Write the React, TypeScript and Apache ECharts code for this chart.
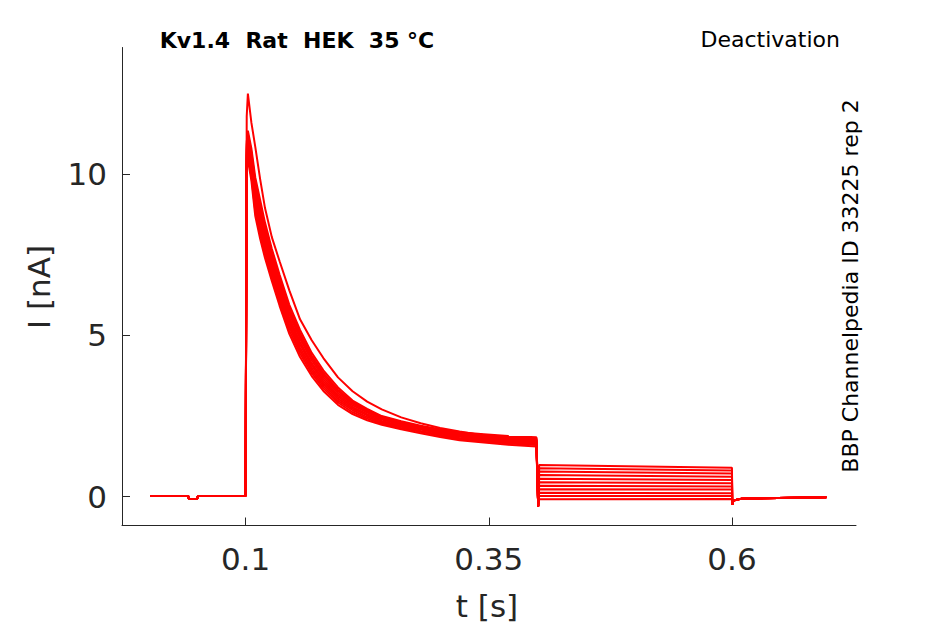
import React, { useEffect, useRef } from "react";
import * as echarts from "echarts";

// Baseline before the test pulse (shared by all sweeps)
const baseT = [0.002, 0.041, 0.0418, 0.0502, 0.051, 0.1];
const baseI = [0.02, 0.02, -0.07, -0.07, 0.02, 0.02];

// Activation / inactivation phase time points (s)
const actT = [0.1012, 0.1024, 0.106, 0.11, 0.115, 0.12, 0.127, 0.135, 0.145, 0.156, 0.168, 0.18, 0.195, 0.21, 0.225, 0.24, 0.26, 0.28, 0.3, 0.32, 0.345, 0.37, 0.399];

// Current (nA) of each sweep during that phase
const sweepA = [11.8, 12.5, 11.6, 10.85, 9.85, 8.95, 8.05, 7.3, 6.4, 5.5, 4.85, 4.3, 3.7, 3.27, 2.95, 2.71, 2.46, 2.28, 2.13, 2.02, 1.9, 1.81, 1.76];
const sweepB = [11.0, 11.35, 10.8, 9.9, 9.2, 8.5, 7.69, 6.88, 5.95, 5.17, 4.46, 3.92, 3.39, 2.98, 2.72, 2.5, 2.34, 2.2, 2.09, 2.0, 1.94, 1.88, 1.84];
const sweepC = [10.9, 11.24, 10.68, 9.75, 9.05, 8.36, 7.57, 6.76, 5.84, 5.07, 4.37, 3.84, 3.32, 2.94, 2.69, 2.48, 2.32, 2.18, 2.07, 1.98, 1.91, 1.85, 1.81];
const sweepD = [10.82, 11.15, 10.58, 9.63, 8.93, 8.25, 7.47, 6.66, 5.75, 4.98, 4.3, 3.78, 3.27, 2.9, 2.66, 2.46, 2.3, 2.16, 2.05, 1.96, 1.89, 1.83, 1.78];
const sweepE = [10.74, 11.06, 10.48, 9.51, 8.81, 8.14, 7.37, 6.57, 5.66, 4.9, 4.23, 3.71, 3.21, 2.88, 2.65, 2.44, 2.29, 2.15, 2.04, 1.95, 1.87, 1.8, 1.75];
const sweepF = [10.65, 10.95, 10.36, 9.37, 8.67, 8.02, 7.25, 6.46, 5.55, 4.8, 4.14, 3.64, 3.15, 2.83, 2.61, 2.42, 2.27, 2.14, 2.02, 1.92, 1.84, 1.77, 1.72];
const sweepG = [10.57, 10.86, 10.26, 9.25, 8.55, 7.91, 7.15, 6.36, 5.46, 4.72, 4.07, 3.57, 3.1, 2.78, 2.56, 2.39, 2.24, 2.11, 1.99, 1.89, 1.81, 1.74, 1.69];
const sweepH = [10.48, 10.77, 10.15, 9.12, 8.42, 7.79, 7.04, 6.26, 5.37, 4.62, 3.99, 3.5, 3.04, 2.73, 2.52, 2.35, 2.2, 2.08, 1.96, 1.86, 1.78, 1.71, 1.66];
const sweepI = [10.39, 10.67, 10.04, 8.99, 8.29, 7.66, 6.93, 6.15, 5.27, 4.53, 3.91, 3.43, 2.98, 2.68, 2.47, 2.31, 2.17, 2.04, 1.92, 1.82, 1.75, 1.68, 1.63];
const sweepJ = [10.3, 10.56, 9.93, 8.85, 8.15, 7.54, 6.82, 6.04, 5.16, 4.44, 3.83, 3.36, 2.92, 2.62, 2.42, 2.27, 2.13, 2.01, 1.89, 1.79, 1.72, 1.65, 1.6];
const sweepK = [10.2, 10.45, 9.8, 8.7, 8.0, 7.4, 6.69, 5.92, 5.05, 4.33, 3.74, 3.28, 2.85, 2.56, 2.37, 2.23, 2.09, 1.97, 1.85, 1.75, 1.68, 1.61, 1.56];

// Deactivation (tail) levels at start and end of the repolarising step
const tailStart = [0.98, 0.88, 0.78, 0.67, 0.56, 0.45, 0.34, 0.23, 0.12, 0.02, -0.08];
const tailEnd = [0.9, 0.81, 0.72, 0.62, 0.52, 0.42, 0.32, 0.22, 0.11, 0.02, -0.07];

// Transients and return to holding
const tailT = [0.4008, 0.4018, 0.6];
const transientDown = -0.3;
const offT = [0.6003, 0.6015, 0.61, 0.697];
const offI = [-0.25, -0.12, -0.06, -0.02];

const xTicks = [0.1, 0.35, 0.6];
const yTicks = [0, 5, 10];

const sweeps = [sweepA, sweepB, sweepC, sweepD, sweepE, sweepF, sweepG, sweepH, sweepI, sweepJ, sweepK];

export default function App() {
  const ref = useRef<HTMLDivElement>(null);
  useEffect(() => {
    if (!ref.current) return;
    const chart = echarts.init(ref.current, undefined, { renderer: "svg" });
    const series = sweeps.map((sw, k) => {
      const data: number[][] = [];
      baseT.forEach((t, i) => data.push([t, baseI[i]]));
      actT.forEach((t, i) => data.push([t, sw[i]]));
      data.push([tailT[0], transientDown]);
      data.push([tailT[1], tailStart[k]]);
      data.push([tailT[2], tailEnd[k]]);
      offT.forEach((t, i) => data.push([t, offI[i]]));
      return {
        type: "line",
        data,
        showSymbol: false,
        symbol: "none",
        lineStyle: { color: "#ff0000", width: 2 },
        itemStyle: { color: "#ff0000" },
        z: k === 0 ? 3 : 2,
      };
    });
    const font = "DejaVu Sans";
    chart.setOption({
      animation: false,
      backgroundColor: "#ffffff",
      grid: { left: 122, right: 89, top: 47.5, bottom: 98.5, containLabel: false },
      xAxis: {
        type: "value",
        min: -0.027,
        max: 0.7275,
        axisLine: { show: true, onZero: false, lineStyle: { color: "#262626", width: 1 } },
        axisTick: { show: true, inside: true, length: 8, customValues: xTicks, lineStyle: { color: "#262626" } },
        axisLabel: { show: true, customValues: xTicks, margin: 18, fontSize: 31, fontFamily: font, color: "#262626", formatter: (v: number) => String(v) },
        splitLine: { show: false },
      },
      yAxis: {
        type: "value",
        min: -0.893,
        max: 13.93,
        axisLine: { show: true, onZero: false, lineStyle: { color: "#262626", width: 1 } },
        axisTick: { show: true, inside: true, length: 8, customValues: yTicks, lineStyle: { color: "#262626" } },
        axisLabel: { show: true, customValues: yTicks, margin: 15, fontSize: 31, fontFamily: font, color: "#262626", formatter: (v: number) => String(v) },
        splitLine: { show: false },
      },
      graphic: [
        { type: "text", x: 297, y: 40, style: { text: "Kv1.4  Rat  HEK  35 °C", font: `bold 22px ${font}`, fill: "#000", align: "center", verticalAlign: "middle" } },
        { type: "text", x: 840, y: 39, style: { text: "Deactivation", font: `22px ${font}`, fill: "#000", align: "right", verticalAlign: "middle" } },
        { type: "text", x: 850, y: 286, rotation: Math.PI / 2, style: { text: "BBP Channelpedia ID 33225 rep 2", font: `22px ${font}`, fill: "#000", align: "center", verticalAlign: "middle" } },
        { type: "text", x: 487, y: 606, style: { text: "t [s]", font: `31px ${font}`, fill: "#262626", align: "center", verticalAlign: "middle" } },
        { type: "text", x: 39, y: 287, rotation: Math.PI / 2, style: { text: "I [nA]", font: `31px ${font}`, fill: "#262626", align: "center", verticalAlign: "middle" } },
      ],
      series,
    });
    return () => chart.dispose();
  }, []);
  return <div ref={ref} style={{ position: "fixed", left: 0, top: 0, width: 945, height: 624 }} />;
}
